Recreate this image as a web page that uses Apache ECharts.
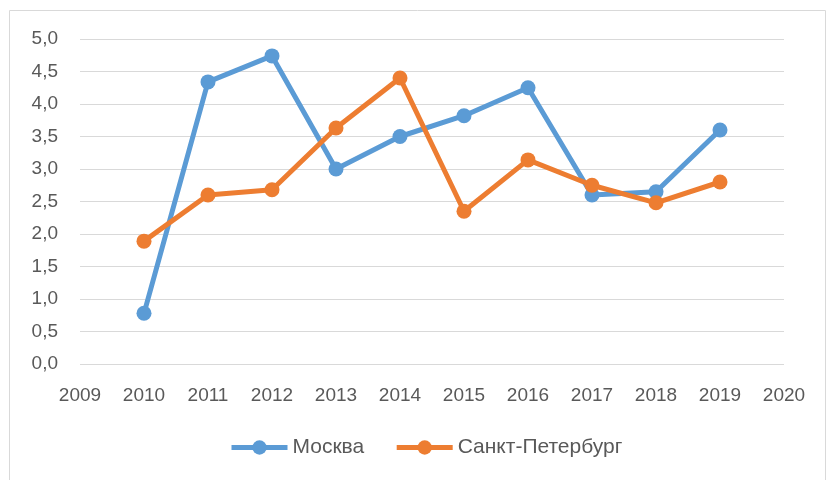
<!DOCTYPE html>
<html>
<head>
<meta charset="utf-8">
<script src="https://cdn.jsdelivr.net/npm/echarts@6/dist/echarts.min.js"></script>
<style>
    html, body { margin: 0; padding: 0; background: #fff; }
    #chart { width: 828px; height: 480px; }
</style>
</head>
<body>
<div id="chart"></div>
<script>
    // данные
    var years = [2010, 2011, 2012, 2013, 2014, 2015, 2016, 2017, 2018, 2019];
    var moscow = [0.78, 4.34, 4.74, 3.0, 3.5, 3.82, 4.25, 2.6, 2.65, 3.6];
    var spb = [1.89, 2.6, 2.68, 3.63, 4.4, 2.35, 3.14, 2.75, 2.48, 2.8];
    var seriesNames = ['Москва', 'Санкт-Петербург'];

    function pairs(vals) {
        return years.map(function (y, i) { return [y, vals[i]]; });
    }

    var myChart = echarts.init(document.getElementById('chart'));
    myChart.setOption({
        color: ['#5B9BD5', '#ED7D31'],
        textStyle: { fontFamily: 'Liberation Sans' },
        graphic: [{
            type: 'rect',
            shape: { x: 9.5, y: 10.5, width: 816, height: 480 },
            style: { fill: 'none', stroke: '#d9d9d9', lineWidth: 1 },
            silent: true
        }],
        grid: { left: 80, right: 44, top: 39, bottom: 116 },
        legend: {
            top: 432,
            left: 224,
            itemWidth: 56,
            itemHeight: 18,
            itemGap: 30,
            lineStyle: { width: 5 },
            textStyle: { color: '#595959', fontSize: 21 },
            data: seriesNames
        },
        xAxis: {
            type: 'value',
            min: 2009,
            max: 2020,
            interval: 1,
            axisLine: { show: false },
            axisTick: { show: false },
            splitLine: { show: false },
            axisLabel: {
                color: '#595959',
                fontSize: 19,
                margin: 22,
                formatter: function (v) { return String(v); }
            }
        },
        yAxis: {
            type: 'value',
            min: 0,
            max: 5,
            interval: 0.5,
            axisLine: { show: false },
            axisTick: { show: false },
            splitLine: { lineStyle: { color: '#d9d9d9', width: 1 } },
            axisLabel: {
                color: '#595959',
                fontSize: 19,
                margin: 22,
                formatter: function (v) { return v.toFixed(1).replace('.', ','); }
            }
        },
        series: [
            {
                name: seriesNames[0],
                type: 'line',
                data: pairs(moscow),
                symbol: 'circle',
                symbolSize: 15,
                lineStyle: { width: 5 }
            },
            {
                name: seriesNames[1],
                type: 'line',
                data: pairs(spb),
                symbol: 'circle',
                symbolSize: 15,
                lineStyle: { width: 5 }
            }
        ]
    });
</script>
</body>
</html>
